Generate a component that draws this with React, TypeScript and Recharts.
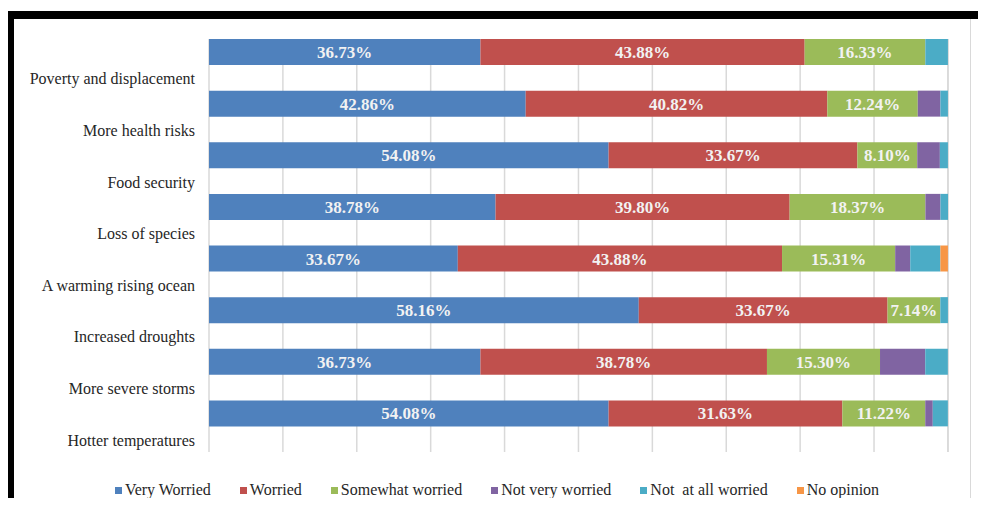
import { BarChart, Bar, XAxis, YAxis, CartesianGrid, LabelList } from "recharts";

const categories = [
  "Poverty and displacement",
  "More health risks",
  "Food security",
  "Loss of species",
  "A warming rising ocean",
  "Increased droughts",
  "More severe storms",
  "Hotter temperatures",
];

const veryWorried = [36.73, 42.86, 54.08, 38.78, 33.67, 58.16, 36.73, 54.08];
const worried = [43.88, 40.82, 33.67, 39.8, 43.88, 33.67, 38.78, 31.63];
const somewhatWorried = [16.33, 12.24, 8.1, 18.37, 15.31, 7.14, 15.3, 11.22];
const notVeryWorried = [0, 3.06, 3.06, 2.04, 2.04, 0, 6.12, 1.02];
const notAtAllWorried = [3.06, 1.02, 1.09, 1.02, 4.08, 1.03, 3.06, 2.04];
const noOpinion = [0, 0, 0, 0, 1.02, 0, 0, 0];

const xTicks = [0, 10, 20, 30, 40, 50, 60, 70, 80, 90, 100];

const series = [
  { key: "veryWorried", name: "Very Worried", color: "#4F81BD", values: veryWorried, label: true },
  { key: "worried", name: "Worried", color: "#C0504D", values: worried, label: true },
  { key: "somewhat", name: "Somewhat worried", color: "#9BBB59", values: somewhatWorried, label: true },
  { key: "notVery", name: "Not very worried", color: "#8064A2", values: notVeryWorried, label: false },
  { key: "notAtAll", name: "Not  at all worried", color: "#4BACC6", values: notAtAllWorried, label: false },
  { key: "noOpinion", name: "No opinion", color: "#F79646", values: noOpinion, label: false },
];

const data = categories.map((name, i) => {
  const row: Record<string, string | number> = { name, spacer: 0 };
  series.forEach((s) => {
    row[s.key] = s.values[i];
  });
  return row;
});

const FONT = "'Liberation Serif', 'Times New Roman', serif";

function CategoryTick(props: any) {
  const { x, y, payload } = props;
  return (
    <text
      x={x}
      y={y}
      dy={14}
      textAnchor="end"
      dominantBaseline="central"
      fill="#262626"
      fontFamily={FONT}
      fontSize={16}
    >
      {payload.value}
    </text>
  );
}

export default function App() {
  return (
    <div
      style={{
        position: "relative",
        width: 986,
        height: 506,
        margin: -8,
        background: "#fff",
        overflow: "hidden",
      }}
    >
      <div
        style={{
          position: "absolute",
          left: 6,
          top: 11,
          width: 980,
          height: 495,
          borderTop: "8px solid #000",
          borderLeft: "8px solid #000",
          boxSizing: "border-box",
        }}
      />
      <div
        style={{
          position: "absolute",
          left: 970,
          top: 19,
          width: 1,
          height: 487,
          background: "#d9d9d9",
        }}
      />
      <div style={{ position: "absolute", left: 0, top: 0 }}>
        <BarChart
          width={986}
          height={506}
          data={data}
          layout="vertical"
          margin={{ top: 39, right: 38, left: 0, bottom: 54 }}
          barCategoryGap={0}
          barGap={0}
        >
          <CartesianGrid horizontal={false} stroke="#d9d9d9" strokeWidth={1.5} />
          <XAxis type="number" domain={[0, 100]} ticks={xTicks} hide />
          <YAxis
            type="category"
            dataKey="name"
            width={209}
            axisLine={false}
            tickLine={false}
            tickSize={0}
            tickMargin={14}
            tick={<CategoryTick />}
            interval={0}
          />
          {series.map((s) => (
            <Bar
              key={s.key}
              dataKey={s.key}
              name={s.name}
              stackId="a"
              fill={s.color}
              isAnimationActive={false}
            >
              {s.label && (
                <LabelList
                  dataKey={s.key}
                  position="center"
                  fill="#f2f2f2"
                  fontFamily={FONT}
                  fontWeight="bold"
                  fontSize={17}
                  formatter={(v: any) => `${Number(v).toFixed(2)}%`}
                />
              )}
            </Bar>
          ))}
          <Bar
            dataKey="spacer"
            stackId="b"
            fill="transparent"
            legendType="none"
            isAnimationActive={false}
          />
        </BarChart>
      </div>
      <div
        style={{
          position: "absolute",
          left: 4,
          width: 986,
          top: 481,
          display: "flex",
          justifyContent: "center",
          gap: 29,
          fontFamily: FONT,
          fontSize: 16,
          color: "#262626",
          whiteSpace: "pre",
        }}
      >
        {series.map((s) => (
          <div key={s.key} style={{ display: "flex", alignItems: "center" }}>
            <span
              style={{
                display: "inline-block",
                width: 7,
                height: 7,
                background: s.color,
                marginRight: 3,
              }}
            />
            <span>{s.name}</span>
          </div>
        ))}
      </div>
    </div>
  );
}
